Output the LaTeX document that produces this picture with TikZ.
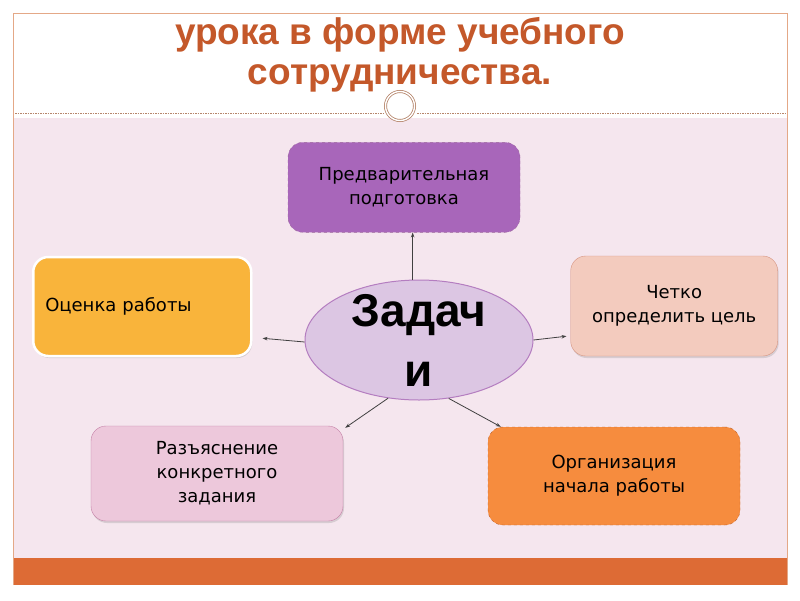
\documentclass[tikz,border=0pt]{standalone}
\usepackage{fontspec}
\setmainfont{Liberation Sans}
\newfontfamily\boxfont{DejaVu Sans}
\usepackage{tikz}
\usetikzlibrary{positioning,arrows.meta,shapes.geometric,shadows,calc}
\usepackage{xcolor}
\definecolor{bandpink}{HTML}{F5E6EE}
\definecolor{titlebrown}{HTML}{C4582A}
\definecolor{framepeach}{HTML}{E4A887}
\definecolor{barorange}{HTML}{DD6B35}

\begin{document}
\begin{tikzpicture}[
  x=1pt, y=-1pt,
  box/.style={rounded corners=15pt, align=center, inner sep=6pt,
    font=\boxfont\fontsize{18}{24}\selectfont},
  soft/.style={drop shadow={shadow xshift=1pt, shadow yshift=-2pt, opacity=0.25}},
  arr/.style={-{Stealth[length=5pt, width=3.5pt]}, black!75, line width=0.8pt},
]
% page frame, bands and title
\useasboundingbox (0,0) rectangle (800,600);
\fill[white] (0,0) rectangle (800,600);
\fill[bandpink] (13,118) rectangle (787,558);
\fill[barorange] (13,558) rectangle (787,585);
\draw[framepeach, line width=0.8pt] (13,585) -- (13,13) -- (787,13) -- (787,585);
\draw[framepeach!80!black, dash pattern=on 1.5pt off 1pt, line width=0.6pt]
  (15,113) -- (383,113) (417,113) -- (785,113);
\node[name=title, align=center, text=titlebrown,
  font=\bfseries\fontsize{37}{40}\selectfont] at (400,55)
  {урока в форме учебного\\сотрудничества.};
\node[circle, fill=white, draw=framepeach!80!black, double=white,
  double distance=1.4pt, line width=0.8pt, minimum size=29pt, inner sep=0pt]
  (knot) at (400,106) {};

% centre and the five tasks
\node[ellipse, draw={rgb,255:red,180;green,125;blue,192}, fill={rgb,255:red,220;green,198;blue,227},
  line width=1pt, minimum width=228pt, minimum height=120pt, inner sep=0pt]
  (task) at (419,340) {};
\node[align=center, font=\bfseries\fontsize{46}{60}\selectfont] (tasktext) at (task) {Задач\\и};
\node[box, draw=violet!70!black!60, dashed, fill={rgb,255:red,168;green,102;blue,186},
  minimum width=232pt, minimum height=90pt, above=47pt of task, xshift=-15pt]
  (prep) {Предварительная\\подготовка};
\node[box, soft, draw=white, line width=2.5pt, fill={rgb,255:red,249;green,180;blue,59},
  minimum width=218pt, minimum height=99pt, text width=194pt, align=left,
  left=52pt of task, yshift=33.5pt] (evalbox) {Оценка работы};
\node[box, soft, draw={rgb,255:red,214;green,148;blue,128}, fill={rgb,255:red,243;green,203;blue,190},
  minimum width=207pt, minimum height=100pt, right=37pt of task, yshift=34pt]
  (goal) {Четко\\определить цель};
\node[box, soft, draw={rgb,255:red,196;green,128;blue,166}, fill={rgb,255:red,237;green,200;blue,219},
  minimum width=252pt, minimum height=95pt] (expl) at (217,473.5)
  {Разъяснение\\конкретного\\задания};
\node[box, draw={rgb,255:red,190;green,100;blue,45}, dashed, fill={rgb,255:red,246;green,140;blue,62},
  minimum width=252pt, minimum height=98pt] (org) at (614,476)
  {Организация\\начала работы};

% connectors
\draw[arr] (task.96) -- (task.96 |- prep.south);
\draw[arr] (task.181) -- ([xshift=10pt, yshift=19pt]evalbox.south east);
\draw[arr] (task.0) -- ([xshift=-4pt, yshift=20pt]goal.south west);
\draw[arr] (task.242) -- ([xshift=2pt, yshift=-2pt]expl.north east);
\draw[arr] (task.297) -- ([xshift=13pt]org.north west);
\end{tikzpicture}
\end{document}
